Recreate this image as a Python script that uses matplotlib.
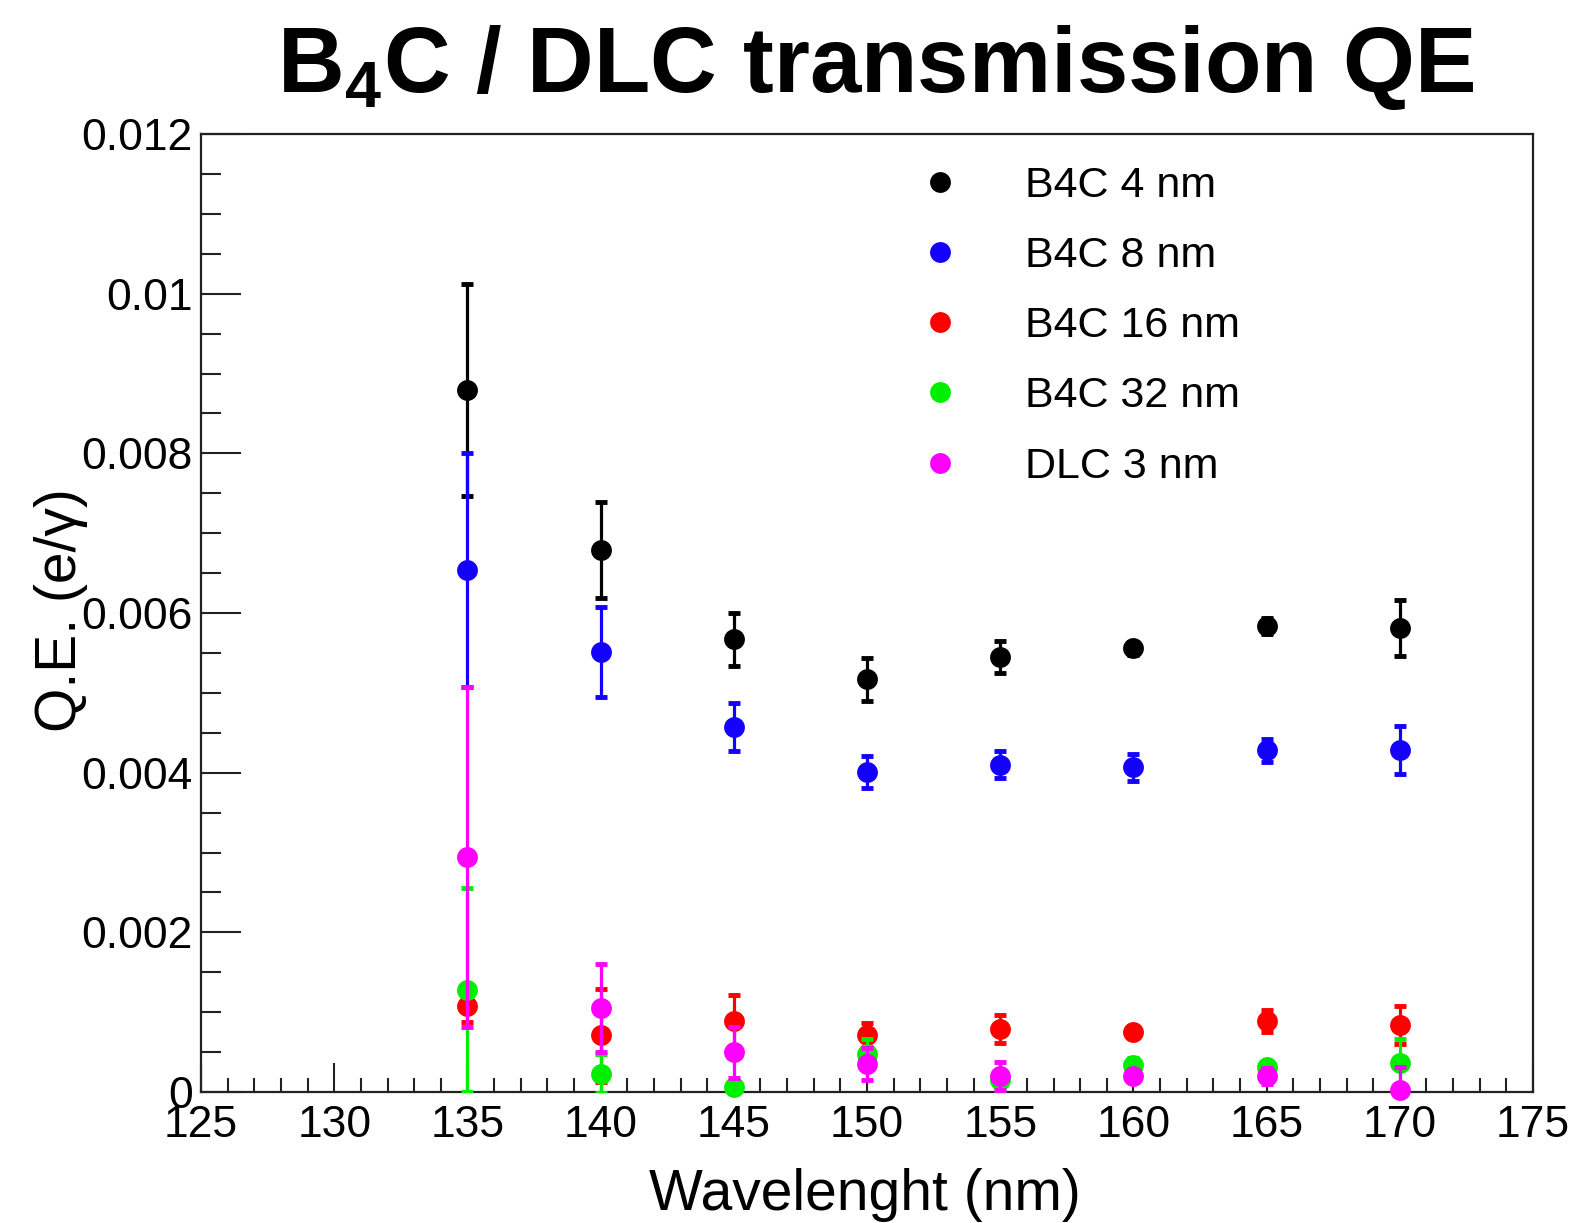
import matplotlib
matplotlib.use("Agg")
import matplotlib.pyplot as plt
from matplotlib.ticker import MultipleLocator, FuncFormatter
from matplotlib.lines import Line2D

plt.rcParams["font.family"] = ["Liberation Sans", "DejaVu Sans"]
plt.rcParams["mathtext.fontset"] = "custom"
plt.rcParams["mathtext.rm"] = "Liberation Sans:bold"
plt.rcParams["mathtext.bf"] = "Liberation Sans:bold"

# Wavelength points (nm)
wavelength = [135, 140, 145, 150, 155, 160, 165, 170]

# Quantum efficiency (e/gamma) and uncertainties per coating
qe_b4c_4 = [0.00879, 0.00679, 0.00567, 0.00517, 0.00545, 0.00556, 0.00584, 0.00581]
err_b4c_4 = [0.00133, 0.00060, 0.00033, 0.00027, 0.00020, 0.00008, 0.00010, 0.00035]

qe_b4c_8 = [0.00654, 0.00551, 0.00457, 0.00401, 0.00410, 0.00407, 0.00428, 0.00428]
err_b4c_8 = [0.00147, 0.00056, 0.00030, 0.00020, 0.00017, 0.00017, 0.00014, 0.00030]

qe_b4c_16 = [0.00108, 0.00071, 0.00089, 0.00071, 0.00079, 0.00075, 0.00089, 0.00084]
err_b4c_16 = [0.00020, 0.00058, 0.00032, 0.00015, 0.00017, 0.00006, 0.00014, 0.00024]

qe_b4c_32 = [0.00128, 0.00023, 0.00006, 0.00048, 0.00015, 0.00034, 0.00031, 0.00036]
err_b4c_32 = [0.00128, 0.00024, 0.00006, 0.00018, 0.00012, 0.00008, 0.00008, 0.00030]

qe_dlc_3 = [0.00294, 0.00105, 0.00050, 0.00035, 0.00020, 0.00020, 0.00020, 0.00003]
err_dlc_3 = [0.00213, 0.00055, 0.00032, 0.00020, 0.00017, 0.00008, 0.00010, 0.00028]

series_labels = ["B4C 4 nm", "B4C 8 nm", "B4C 16 nm", "B4C 32 nm", "DLC 3 nm"]
series_colors = ["#000000", "#1400ff", "#ff0000", "#00ee00", "#ff00ff"]
series_values = [qe_b4c_4, qe_b4c_8, qe_b4c_16, qe_b4c_32, qe_dlc_3]
series_errors = [err_b4c_4, err_b4c_8, err_b4c_16, err_b4c_32, err_dlc_3]

fig = plt.figure(figsize=(15.73, 12.23), dpi=100)
ax = fig.add_axes([0.1278, 0.1071, 0.8468, 0.7833])

handles = []
for i, (lab, col, vals, errs) in enumerate(zip(series_labels, series_colors,
                                                series_values, series_errors)):
    ax.errorbar(wavelength, vals, yerr=errs, fmt="none", ecolor=col,
                elinewidth=2.3, capsize=4.5, capthick=3.5, zorder=2 + 2 * i)
    ax.plot(wavelength, vals, linestyle="none", marker="o", markersize=15,
            color=col, markeredgewidth=0, clip_on=False, zorder=3 + 2 * i)
    handles.append(Line2D([], [], linestyle="none", marker="o", markersize=15,
                          color=col, markeredgewidth=0, label=lab))

ax.set_xlim(125, 175)
ax.set_ylim(0, 0.012)

ax.xaxis.set_major_locator(MultipleLocator(5))
ax.xaxis.set_minor_locator(MultipleLocator(1))
ax.yaxis.set_major_locator(MultipleLocator(0.002))
ax.yaxis.set_minor_locator(MultipleLocator(0.0005))
ax.yaxis.set_major_formatter(FuncFormatter(lambda v, p: "%g" % round(v, 6)))

ax.tick_params(axis="both", which="both", direction="in", top=False,
               right=False, width=1.5, colors="#222222", labelcolor="black",
               labelsize=32)
ax.tick_params(axis="x", which="major", length=21, pad=9)
ax.tick_params(axis="x", which="minor", length=10)
ax.tick_params(axis="y", which="major", length=29, pad=6)
ax.tick_params(axis="y", which="minor", length=14.5)

for sp in ax.spines.values():
    sp.set_linewidth(1.6)
    sp.set_color("#222222")

ax.set_xlabel("Wavelenght (nm)", fontsize=41, va="baseline")
ax.xaxis.set_label_coords(0.4985, -0.1232)
ax.set_ylabel("Q.E. (e/γ)", fontsize=41, va="center", ha="center")
ax.yaxis.set_label_coords(-0.1055, 0.503)

ax.legend(handles=handles, loc="upper left", bbox_to_anchor=(0.5383, 0.9666),
          frameon=False, fontsize=31, handlelength=1.0, handletextpad=1.48,
          labelspacing=0.70, borderpad=0, borderaxespad=0)

fig.text(876 / 1573, 1 - 92 / 1223, r"B$_{4}$C / DLC transmission QE",
         fontsize=66.5, fontweight="bold", ha="center", va="baseline")

fig.savefig("out.png", dpi=100)
